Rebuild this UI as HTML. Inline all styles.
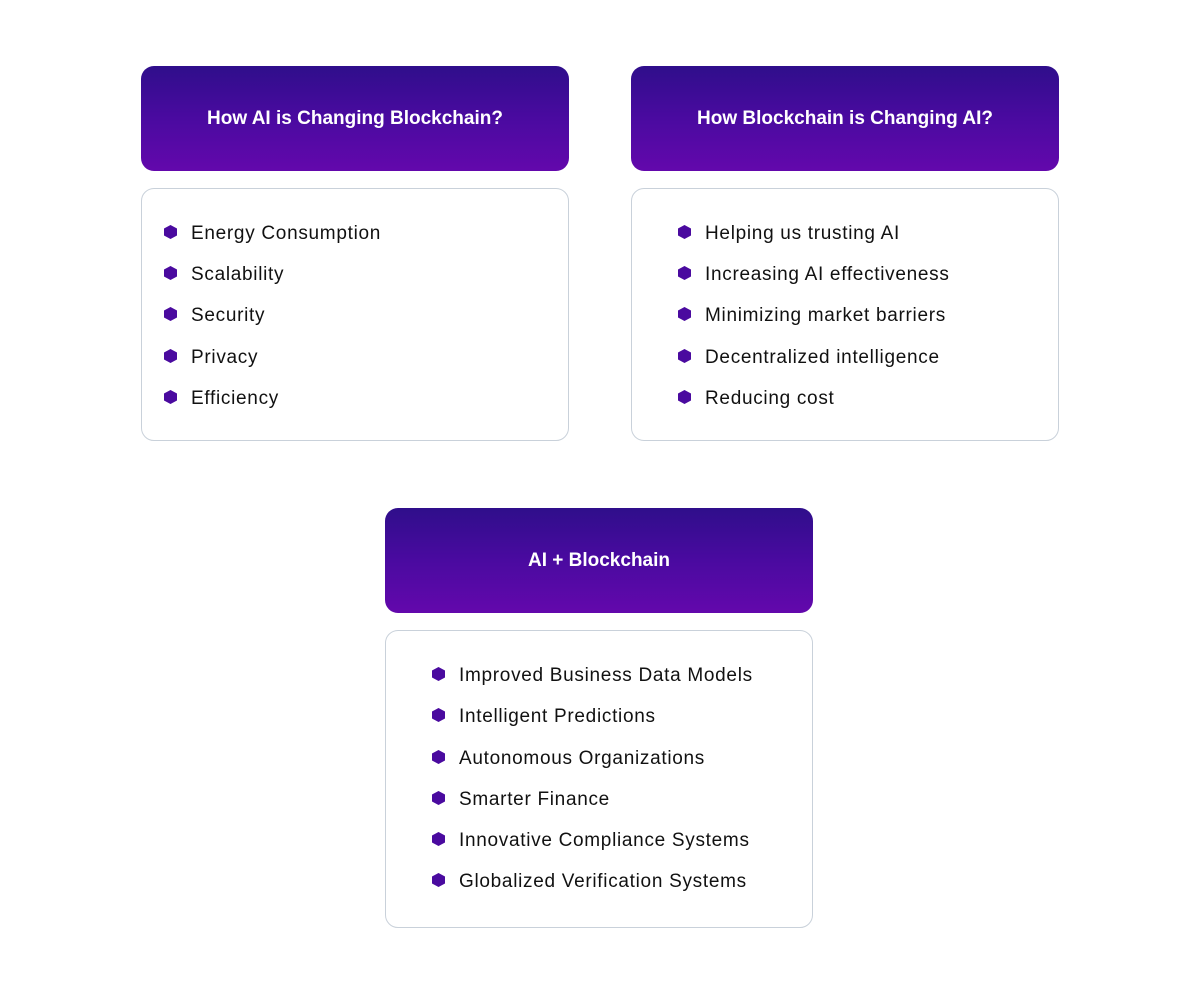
<!DOCTYPE html>
<html><head><meta charset="utf-8"><style>
html,body{margin:0;padding:0;background:#fff;}
body{width:1200px;height:998px;position:relative;overflow:hidden;font-family:"Liberation Sans",sans-serif;}
.h{position:absolute;width:428px;height:105px;border-radius:13px;background:linear-gradient(180deg,#2f0e8b 0%,#4a0aa0 50%,#6308ac 100%);color:#fff;font-weight:bold;font-size:19px;display:flex;align-items:center;justify-content:center;letter-spacing:0px;}
.c{position:absolute;width:426px;border:1.5px solid #c9d1da;border-radius:13px;background:#fff;box-sizing:content-box;}
.i{position:absolute;font-size:19px;color:#111;white-space:nowrap;line-height:20px;letter-spacing:0.7px;}
.b{position:absolute;width:13px;height:14px;background:#4a0a9f;clip-path:polygon(50% 0,100% 25%,100% 75%,50% 100%,0 75%,0 25%);}
</style></head><body>
<div class="h" style="left:141px;top:66px">How AI is Changing Blockchain?</div>
<div class="h" style="left:631px;top:66px">How Blockchain is Changing AI?</div>
<div class="h" style="left:385px;top:508px">AI + Blockchain</div>
<div class="c" style="left:141px;top:188px;height:251px"></div>
<div class="c" style="left:631px;top:188px;height:251px"></div>
<div class="c" style="left:385px;top:630px;height:296px"></div>

<div class="b" style="left:164px;top:225px"></div><div class="i" style="left:191px;top:224px">Energy Consumption</div>
<div class="b" style="left:164px;top:266px"></div><div class="i" style="left:191px;top:265px">Scalability</div>
<div class="b" style="left:164px;top:307px"></div><div class="i" style="left:191px;top:306px">Security</div>
<div class="b" style="left:164px;top:349px"></div><div class="i" style="left:191px;top:348px">Privacy</div>
<div class="b" style="left:164px;top:390px"></div><div class="i" style="left:191px;top:389px">Efficiency</div>

<div class="b" style="left:678px;top:225px"></div><div class="i" style="left:705px;top:224px">Helping us trusting AI</div>
<div class="b" style="left:678px;top:266px"></div><div class="i" style="left:705px;top:265px">Increasing AI effectiveness</div>
<div class="b" style="left:678px;top:307px"></div><div class="i" style="left:705px;top:306px">Minimizing market barriers</div>
<div class="b" style="left:678px;top:349px"></div><div class="i" style="left:705px;top:348px">Decentralized intelligence</div>
<div class="b" style="left:678px;top:390px"></div><div class="i" style="left:705px;top:389px">Reducing cost</div>

<div class="b" style="left:432px;top:667px"></div><div class="i" style="left:459px;top:666px">Improved Business Data Models</div>
<div class="b" style="left:432px;top:708px"></div><div class="i" style="left:459px;top:707px">Intelligent Predictions</div>
<div class="b" style="left:432px;top:750px"></div><div class="i" style="left:459px;top:749px">Autonomous Organizations</div>
<div class="b" style="left:432px;top:791px"></div><div class="i" style="left:459px;top:790px">Smarter Finance</div>
<div class="b" style="left:432px;top:832px"></div><div class="i" style="left:459px;top:831px">Innovative Compliance Systems</div>
<div class="b" style="left:432px;top:873px"></div><div class="i" style="left:459px;top:872px">Globalized Verification Systems</div>
</body></html>
